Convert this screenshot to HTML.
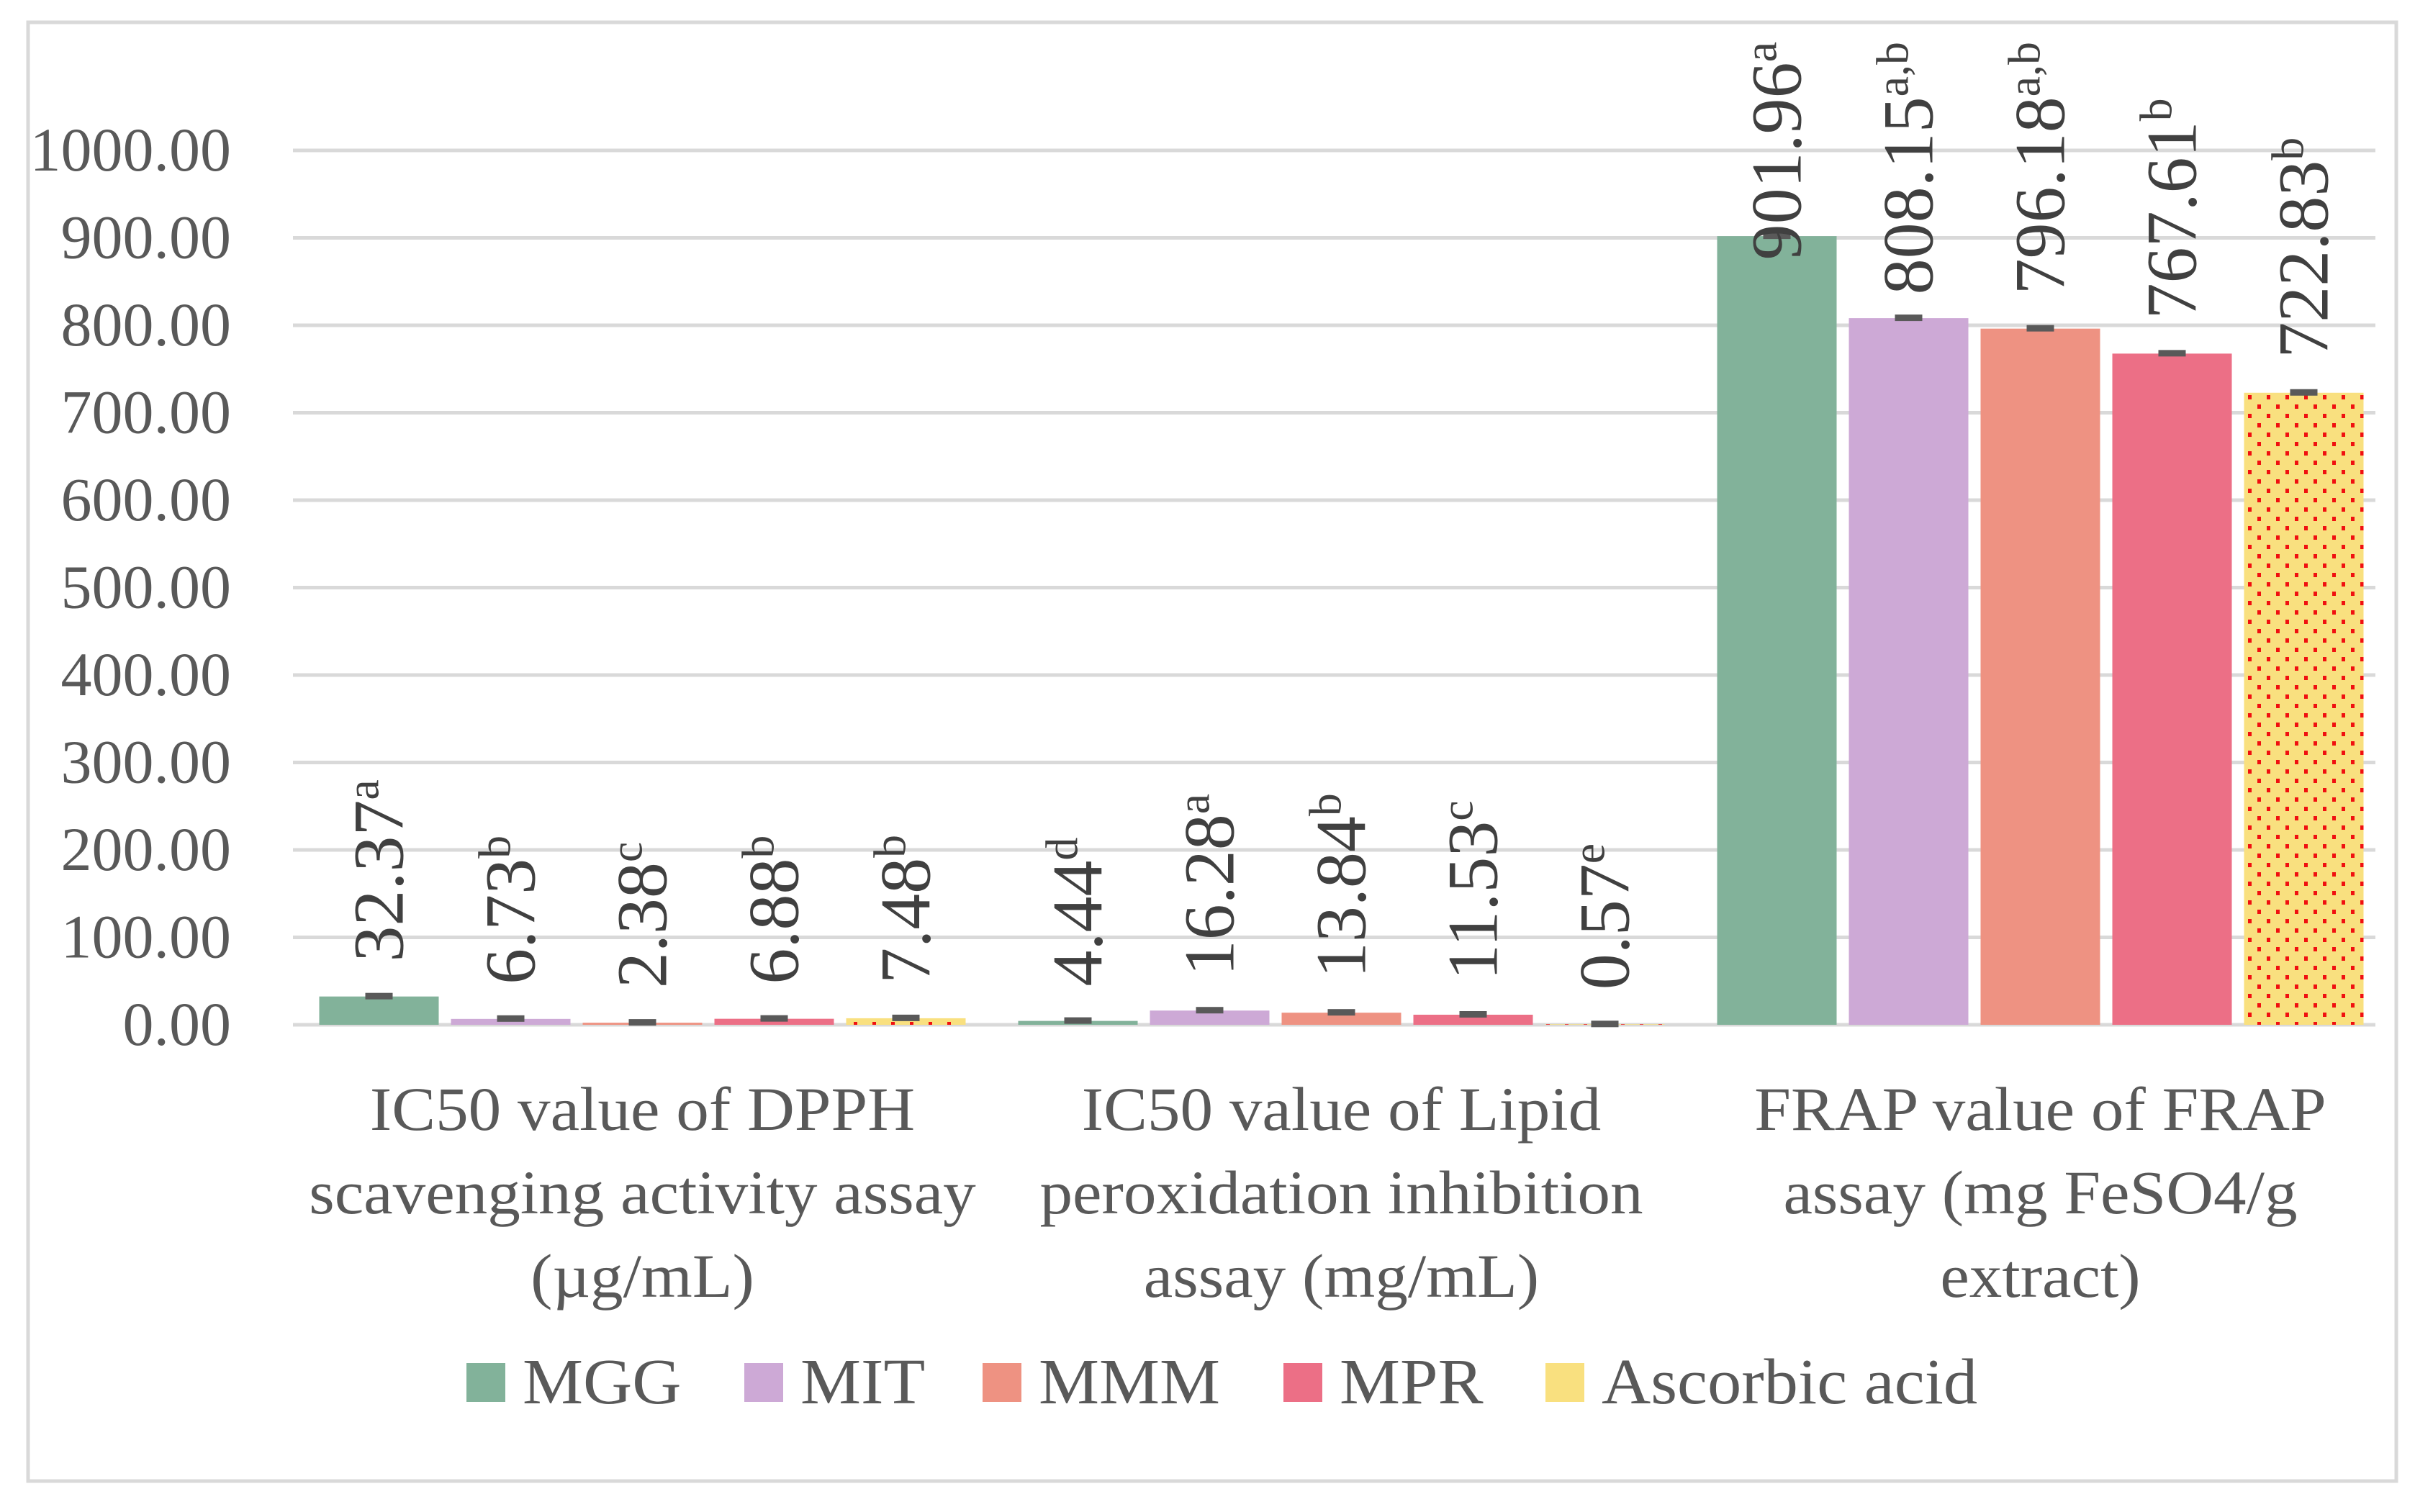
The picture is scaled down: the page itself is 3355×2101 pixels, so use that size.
<!DOCTYPE html>
<html><head><meta charset="utf-8"><style>
html,body{margin:0;padding:0;background:#fff;}
svg{display:block;font-family:"Liberation Serif",serif;}
</style></head><body>
<svg id="chart" width="3355" height="2101" viewBox="0 0 3355 2101">
<defs>
<pattern id="dots" width="26" height="26" patternUnits="userSpaceOnUse">
<rect width="26" height="26" fill="#f9e07f"/>
<rect x="3" y="3" width="5" height="6" fill="#f01010"/>
<rect x="16" y="16" width="5" height="6" fill="#f01010"/>
</pattern>
</defs>
<rect x="39" y="31" width="3290" height="2027" fill="#fff" stroke="#d9d9d9" stroke-width="5"/>
<g id="grid"></g><g id="bars"></g><g id="labels"></g><g id="legend"></g>
</svg>
<script>
const categories = [["IC50 value of DPPH","scavenging activity assay","(µg/mL)"],["IC50 value of Lipid","peroxidation inhibition","assay (mg/mL)"],["FRAP value of FRAP","assay (mg FeSO4/g","extract)"]];
const seriesNames = ["MGG","MIT","MMM","MPR","Ascorbic acid"];
const MGG = [32.37, 4.44, 901.96];
const MIT = [6.73, 16.28, 808.15];
const MMM = [2.38, 13.84, 796.18];
const MPR = [6.88, 11.53, 767.61];
const ASC = [7.48, 0.57, 722.83];
const letters = [["a","d","a"],["b","a","a,b"],["c","b","a,b"],["b","c","b"],["b","e","b"]];
const ticks = [0,100,200,300,400,500,600,700,800,900,1000];
const tickLabels = ["0.00","100.00","200.00","300.00","400.00","500.00","600.00","700.00","800.00","900.00","1000.00"];
const series = [MGG,MIT,MMM,MPR,ASC];
const colors = ["#82b29a","#cda9d6","#ee9282","#ec6f86","url(#dots)"];
const legendColors = ["#82b29a","#cda9d6","#ee9282","#ec6f86","#f9e07f"];
const NS="http://www.w3.org/2000/svg";
const plotL=407, plotR=3320, y0=1424, pxPer=1.215;
const y=v=>y0-v*pxPer;
const catW=(plotR-plotL)/categories.length;
const barW=166, gap=17;
function mk(tag,attrs,parent){const e=document.createElementNS(NS,tag);for(const k in attrs)e.setAttribute(k,attrs[k]);parent.appendChild(e);return e;}
const grid=document.getElementById('grid');
ticks.forEach((t,i)=>{
  const l=mk('line',{x1:plotL,x2:3300,y1:y(t),y2:y(t),stroke:'#d9d9d9','stroke-width':5},grid);
  
  
  const tx=mk('text',{x:321,y:y(t)+28,'text-anchor':'end','font-size':86,fill:'#595959'},grid);
  tx.textContent=tickLabels[i];
  
  
});
const bars=document.getElementById('bars'), labels=document.getElementById('labels');
categories.forEach((c,ci)=>{
  const groupW=series.length*barW+(series.length-1)*gap;
  const gx=plotL+ci*catW+(catW-groupW)/2;
  series.forEach((s,si)=>{
    const v=s[ci], bx=gx+si*(barW+gap), cx=bx+barW/2;
    const r=mk('rect',{x:bx,y:y(v),width:barW,height:y0-y(v),fill:colors[si]},bars);
    
    
    const eb=mk('rect',{x:cx-19,y:y(v)-5,width:38,height:9,fill:'#595959'},bars);
    
    
    const t=mk('text',{'font-size':100,fill:'#404040'},labels);
    
    
    t.appendChild(document.createTextNode(v.toFixed(2)));
    const sp=mk('tspan',{'font-size':64,dy:-34},t);
    sp.textContent=letters[si][ci];
    let start=y(v)-48;
    const len=t.getComputedTextLength();
    if(start-len<58) start=58+len;
    t.setAttribute('transform','translate('+(cx+33)+','+start+') rotate(-90)');
  });
  const ccx=plotL+ci*catW+catW/2;
  c.forEach((line,li)=>{
    const t=mk('text',{x:ccx,y:1570+li*116,'text-anchor':'middle','font-size':86,fill:'#595959'},labels);
    t.textContent=line;
    
    
    const w=t.getComputedTextLength();
    t.setAttribute('textLength',w*1.06);
    t.setAttribute('lengthAdjust','spacingAndGlyphs');
  });
});
const leg=document.getElementById('legend');
const legX=[648,1034,1365,1783,2147];
seriesNames.forEach((n,i)=>{
  const g=mk('g',{},leg);
  
  
  mk('rect',{x:legX[i],y:1894,width:54,height:54,fill:legendColors[i]},g);
  const t=mk('text',{x:legX[i]+78,y:1950,'font-size':90,fill:'#595959'},g);
  t.textContent=n;
  const w=t.getComputedTextLength();
  t.setAttribute('textLength',w*1.05);
  t.setAttribute('lengthAdjust','spacingAndGlyphs');
});
</script>
</body></html>
